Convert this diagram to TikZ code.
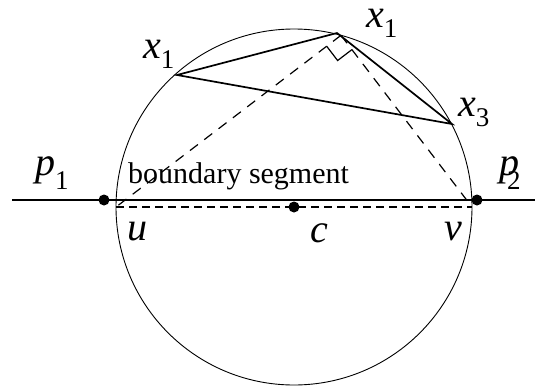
\documentclass[tikz,border=0pt]{standalone}
\usepackage{fontspec}
\setmainfont{Liberation Serif}
\usetikzlibrary{calc}
\newcommand{\sbs}[2][10pt]{\raisebox{-#1}{\fontsize{27}{27}\selectfont\upshape #2}}
\begin{document}
\begin{tikzpicture}[x=1pt,y=-1pt,
  dot/.style={circle,fill=black,inner sep=0pt,minimum size=11pt},
  lbl/.style={inner sep=0pt,anchor=base west,font=\fontsize{40}{40}\selectfont\itshape},
  txt/.style={inner sep=0pt,anchor=base west,font=\fontsize{30}{30}\selectfont},
  dsh/.style={dash pattern=on 8pt off 5pt, line width=1.2pt},
  ddsh/.style={dash pattern=on 10pt off 8pt, line width=1.2pt},
  thick line/.style={line width=1.7pt}]
\useasboundingbox (0,0) rectangle (539,386);
% geometry
\coordinate (c) at (294,207);
\coordinate (u) at (116,207);
\coordinate (v) at (472,207);
\coordinate (apex) at (341,35.3);
\coordinate (A) at (177,75);
\coordinate (B) at (337,33);
\coordinate (C) at (452,124);
\coordinate (L) at (12,200);
\coordinate (R) at (535,200);
% circle
\draw[line width=0.9pt] (c) circle[radius=178];
% boundary line
\draw[line width=1.3pt] (L) -- (R);
\node[dot] (p1) at (104,200) {};
\node[dot] (p2) at (477,200) {};
% dashed diameter and dashed right triangle
\draw[dsh] (u) -- (v);
\node[dot] (cd) at (c) {};
\draw[ddsh] (apex) -- (u);
\draw[ddsh] (apex) -- (v);
% right angle mark
\coordinate (m1) at ($(apex)!18pt!(u)$);
\coordinate (m2) at ($(apex)!18pt!(v)$);
\coordinate (m3) at ($(m1)+(m2)-(apex)$);
\draw[line width=1.2pt] (m1) -- (m3) -- (m2);
% triangle
\draw[thick line,line join=miter] (A) -- (B) -- (C) -- cycle;
% labels
\node[lbl] (lx1) at (143,58) {x\sbs{1}};
\node[lbl] (lx2) at (366,27) {x\sbs{1}};
\node[lbl] (lx3) at (458,116) {x\sbs{3}};
\node[lbl] (lp1) at (35,175) {p\sbs[14pt]{1}};
\node[lbl] (lp2) at (499,175) {p\kern-12pt\sbs[14pt]{2}};
\node[lbl] (lu) at (127,240) {u};
\node[lbl] (lv) at (444,240) {v};
\node[lbl] (lc) at (310,242) {c};
\node[txt] (lbs) at (128,183) {boundary segment};
\end{tikzpicture}
\end{document}
